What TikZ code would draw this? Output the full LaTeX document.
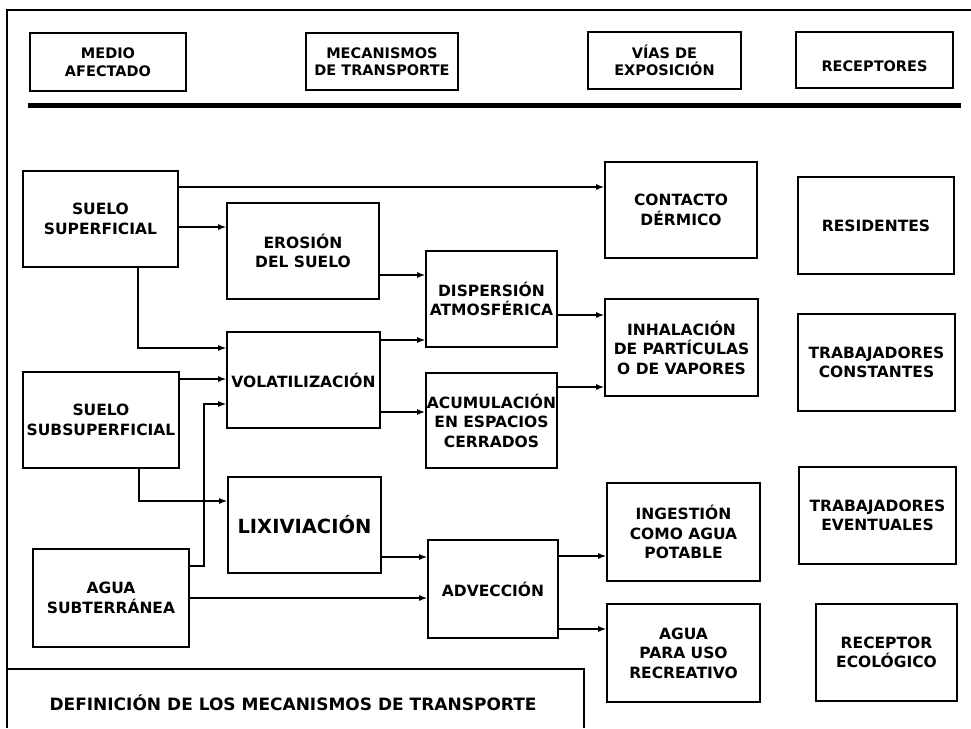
\documentclass[tikz,border=0pt]{standalone}
\usepackage{fontspec}
\setmainfont{DejaVu Sans}
\usetikzlibrary{arrows.meta}

\tikzset{
  caja/.style={draw, line width=1.6pt, align=center, inner sep=1pt,
    font=\fontsize{15.5}{19.5}\selectfont\bfseries},
  titulo/.style={caja, line width=1.3pt, font=\fontsize{14.5}{17.5}\selectfont\bfseries},
  flecha/.style={-{Latex[length=8pt,width=6pt]}, line width=1.4pt}
}

\begin{document}
\begin{tikzpicture}[x=1pt, y=-1pt]
  \useasboundingbox (0,0) rectangle (971,728);
  % Frame
  \draw[line width=2.2pt] (971,10) -- (7,10) -- (7,728);
  \draw[line width=5pt] (28,105) -- (961,105);
  \draw[line width=1.7pt] (7,669) -- (584,669) -- (584,728);
  \node[anchor=west, font=\fontsize{17}{20}\selectfont\bfseries] (definicion) at (46,703)
    {DEFINICIÓN DE LOS MECANISMOS DE TRANSPORTE};
  % Header
  \node[titulo, minimum width=156, minimum height=58] (medio) at (108,62) {MEDIO\\AFECTADO};
  \node[titulo, minimum width=152, minimum height=57] (mecanismos) at (382,61.5) {MECANISMOS\\DE TRANSPORTE};
  \node[titulo, minimum width=153, minimum height=57] (vias) at (664.5,60.5) {VÍAS DE\\EXPOSICIÓN};
  \node[titulo, minimum width=157, minimum height=56, text height=24pt, text depth=2pt] (receptores) at (874.5,60) {RECEPTORES};
  % Medio afectado
  \node[caja, minimum width=155, minimum height=96] (sup) at (100.5,219) {SUELO\\SUPERFICIAL};
  \node[caja, minimum width=156, minimum height=96] (subsup) at (101,420) {SUELO\\SUBSUPERFICIAL};
  \node[caja, minimum width=156, minimum height=98] (aguasub) at (111,598) {AGUA\\SUBTERRÁNEA};
  % Mecanismos de transporte
  \node[caja, minimum width=152, minimum height=96] (erosion) at (303,251) {EROSIÓN\\DEL SUELO};
  \node[caja, minimum width=153, minimum height=96] (volat) at (303.5,380) {VOLATILIZACIÓN};
  \node[caja, minimum width=153, minimum height=96, font=\fontsize{19.5}{23}\selectfont\bfseries] (lixiv) at (304.5,525) {LIXIVIACIÓN};
  \node[caja, minimum width=131, minimum height=96] (disp) at (491.5,299) {DISPERSIÓN\\ATMOSFÉRICA};
  \node[caja, minimum width=131, minimum height=95] (acum) at (491.5,420.5) {ACUMULACIÓN\\EN ESPACIOS\\CERRADOS};
  \node[caja, minimum width=130, minimum height=98] (advec) at (493,589) {ADVECCIÓN};
  % Vias de exposicion
  \node[caja, minimum width=152, minimum height=96] (contacto) at (681,210) {CONTACTO\\DÉRMICO};
  \node[caja, minimum width=153, minimum height=97] (inhal) at (681.5,347.5) {INHALACIÓN\\DE PARTÍCULAS\\O DE VAPORES};
  \node[caja, minimum width=153, minimum height=98] (ingest) at (683.5,532) {INGESTIÓN\\COMO AGUA\\POTABLE};
  \node[caja, minimum width=153, minimum height=98] (aguarec) at (683.5,653) {AGUA\\PARA USO\\RECREATIVO};
  % Receptores
  \node[caja, minimum width=156, minimum height=97] (resid) at (876,225.5) {RESIDENTES};
  \node[caja, minimum width=157, minimum height=97] (trabc) at (876.5,362.5) {TRABAJADORES\\CONSTANTES};
  \node[caja, minimum width=157, minimum height=97] (trabe) at (877.5,515.5) {TRABAJADORES\\EVENTUALES};
  \node[caja, minimum width=141, minimum height=97] (recepeco) at (886.5,652.5) {RECEPTOR\\ECOLÓGICO};
  % Arrows from the media
  \coordinate (s1) at ([yshift=32pt]sup.east);
  \coordinate (s2) at ([yshift=-8pt]sup.east);
  \coordinate (s3) at ([xshift=37.5pt]sup.south);
  \draw[flecha] (s1) -- (s1 -| contacto.west);
  \draw[flecha] (s2) -- (s2 -| erosion.west);
  \draw[flecha] (s3) |- ([yshift=32pt]volat.west);
  \coordinate (u1) at ([yshift=41pt]subsup.east);
  \coordinate (u2) at ([xshift=38pt]subsup.south);
  \draw[flecha] (u1) -- (u1 -| volat.west);
  \draw[flecha] (u2) |- ([yshift=24pt]lixiv.west);
  \coordinate (g1) at ([yshift=32pt]aguasub.east);
  \draw[flecha] (g1) -- ++(14,0) |- ([yshift=-24pt]volat.west);
  \draw[flecha] (aguasub.east) -- (aguasub.east -| advec.west);
  % Arrows between mechanisms
  \coordinate (e1) at ([yshift=-24pt]erosion.east);
  \coordinate (v1) at ([yshift=40pt]volat.east);
  \coordinate (v2) at ([yshift=-32pt]volat.east);
  \coordinate (l1) at ([yshift=-32pt]lixiv.east);
  \draw[flecha] (e1) -- (e1 -| disp.west);
  \draw[flecha] (v1) -- (v1 -| disp.west);
  \draw[flecha] (v2) -- (v2 -| acum.west);
  \draw[flecha] (l1) -- (l1 -| advec.west);
  % Arrows to the exposure routes
  \coordinate (d1) at ([yshift=-16pt]disp.east);
  \coordinate (c1) at ([yshift=33.5pt]acum.east);
  \coordinate (a1) at ([yshift=33pt]advec.east);
  \coordinate (a2) at ([yshift=-40pt]advec.east);
  \draw[flecha] (d1) -- (d1 -| inhal.west);
  \draw[flecha] (c1) -- (c1 -| inhal.west);
  \draw[flecha] (a1) -- (a1 -| ingest.west);
  \draw[flecha] (a2) -- (a2 -| aguarec.west);
\end{tikzpicture}
\end{document}
